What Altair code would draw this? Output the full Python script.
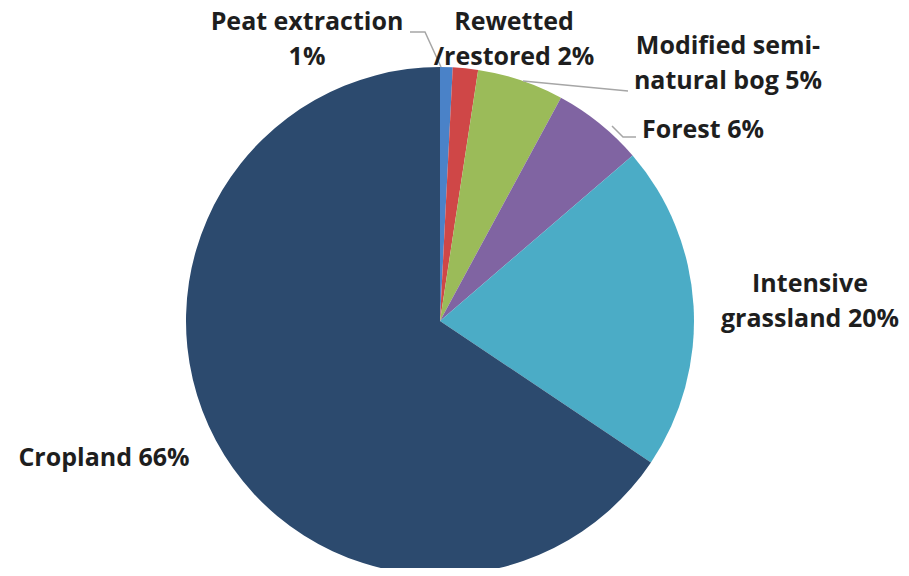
import altair as alt
import pandas as pd

# ---- data ----
categories = ["Peat extraction", "Rewetted /restored", "Modified semi-natural bog",
              "Forest", "Intensive grassland", "Cropland"]
shares = [0.8, 1.6, 5.5, 5.8, 20.7, 65.6]
colors = ["#4A82C8", "#CF4747", "#9BBB59", "#8064A2", "#4BACC6", "#2C4A6E"]
label_lines = [["Peat extraction", "1%"], ["Rewetted", "/restored 2%"],
               ["Modified semi-", "natural bog 5%"], ["Forest 6%"],
               ["Intensive", "grassland  20%"], ["Cropland 66%"]]

# ---- layout (chart pixel coordinates) ----
label_anchor_x = [299, 506, 720, 695, 802, 96]
label_anchor_y = [22, 22, 46, 130, 284, 458]
line_step = 35
leaders = [
    [(402, 24), (417, 24), (433, 59)],
    [(515, 73), (620, 83)],
    [(604, 118), (615, 129), (628, 129)],
]
cx, cy, R = 432, 313, 254

pie_df = pd.DataFrame({"cat": categories, "share": shares, "idx": list(range(len(categories)))})

rows = []
for i, lines in enumerate(label_lines):
    for j, t in enumerate(lines):
        rows.append({"t": t, "x": label_anchor_x[i], "y": label_anchor_y[i] + j * line_step})
lab_df = pd.DataFrame(rows)

lrows = []
for s, pts in enumerate(leaders):
    for k, (x, y) in enumerate(pts):
        lrows.append({"seg": s, "k": k, "x": x, "y": y})
lead_df = pd.DataFrame(lrows)

pie = alt.Chart(pie_df).mark_arc(outerRadius=R, strokeWidth=0).encode(
    theta=alt.Theta("share:Q", stack=True),
    order=alt.Order("idx:Q"),
    color=alt.Color("cat:N", scale=alt.Scale(domain=categories, range=colors), legend=None),
    x=alt.value(cx),
    y=alt.value(cy),
)

leader = alt.Chart(lead_df).mark_line(color="#A6A6A6", strokeWidth=1.5).encode(
    x=alt.X("x:Q", scale=None),
    y=alt.Y("y:Q", scale=None),
    detail="seg:N",
    order="k:Q",
)

text = alt.Chart(lab_df).mark_text(
    font="Open Sans", fontWeight="bold", fontSize=25, color="#1E1E1E",
    align="center", baseline="alphabetic",
).encode(
    x=alt.X("x:Q", scale=None),
    y=alt.Y("y:Q", scale=None),
    text="t:N",
)

chart = alt.layer(pie, leader, text).properties(
    width=893, height=560, autosize="none", padding=0
).configure_view(stroke=None)

chart.save("out.html", embed_options={"renderer": "svg", "actions": False})
